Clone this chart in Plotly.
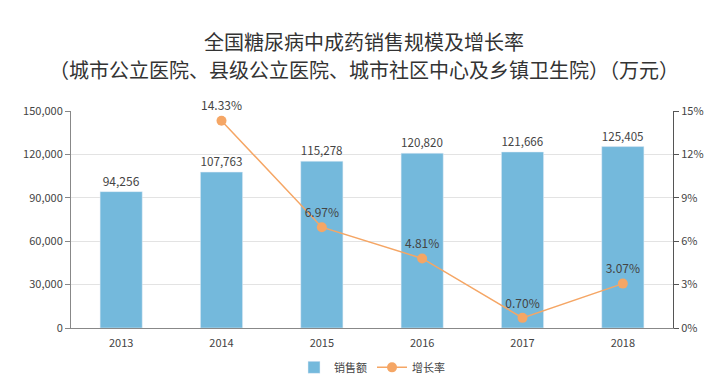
import plotly.graph_objects as go

years = ["2013", "2014", "2015", "2016", "2017", "2018"]
sales = [94256, 107763, 115278, 120820, 121666, 125405]
growth = [None, 14.33, 6.97, 4.81, 0.70, 3.07]
growth_labels = ["", "14.33%", "6.97%", "4.81%", "0.70%", "3.07%"]
y1_ticks = [0, 30000, 60000, 90000, 120000, 150000]
y2_ticks = [0, 3, 6, 9, 12, 15]
title_lines = ["全国糖尿病中成药销售规模及增长率",
               "（城市公立医院、县级公立医院、城市社区中心及乡镇卫生院）（万元）"]

font_family = "Noto Sans CJK SC, Noto Sans, sans-serif"

fig = go.Figure()
fig.add_trace(go.Bar(
    x=years, y=sales, name="销售额",
    marker=dict(color="#74b9dc"),
    width=0.42,
    text=[f"{v:,}" for v in sales], textposition="outside",
    textfont=dict(size=12, color="#444"),
    cliponaxis=False,
))
fig.add_trace(go.Scatter(
    x=years, y=growth, name="增长率", yaxis="y2",
    mode="lines+markers+text",
    line=dict(color="#f5a665", width=1.5),
    marker=dict(color="#f5a665", size=10),
    text=growth_labels, textposition="top center",
    textfont=dict(size=12, color="#444"),
    cliponaxis=False,
))

plot_left, plot_right = 63, 665
plot_top, plot_bottom = 103, 329
ph = plot_bottom - plot_top
pw = plot_right - plot_left
annotations = []
for txt, yc in zip(title_lines, [31, 60]):
    annotations.append(dict(
        text=txt, xref="paper", yref="paper",
        x=(356 - plot_left) / pw, xanchor="center",
        y=1 + (plot_top - yc) / ph, yanchor="middle",
        showarrow=False, font=dict(size=20, color="#333", family=font_family),
    ))

fig.update_layout(
    width=712, height=386,
    margin=dict(l=plot_left, r=712 - plot_right, t=plot_top, b=386 - plot_bottom),
    paper_bgcolor="white", plot_bgcolor="white",
    font=dict(family=font_family, color="#444"),
    annotations=annotations,
    xaxis=dict(
        type="category", showline=True, linecolor="#888", linewidth=1,
        ticks="outside", ticklen=5, tickcolor="rgba(0,0,0,0)",
        tickfont=dict(size=11, color="#444"), automargin=False,
    ),
    yaxis=dict(
        range=[0, 150000], tickvals=y1_ticks, tickformat=",",
        showline=True, linecolor="#888", linewidth=1,
        ticks="outside", ticklen=5, tickcolor="#888",
        gridcolor="#e3e3e3", zeroline=False,
        tickfont=dict(size=11, color="#444"),
    ),
    yaxis2=dict(
        range=[0, 15], tickvals=y2_ticks, ticktext=[f"{v}%" for v in y2_ticks],
        overlaying="y", side="right",
        showline=True, linecolor="#555", linewidth=1,
        ticks="outside", ticklen=5, tickcolor="#555",
        showgrid=False, zeroline=False,
        tickfont=dict(size=11, color="#444"),
    ),
    legend=dict(
        orientation="h", x=0.5, xanchor="center",
        y=(plot_bottom - 370) / ph, yanchor="middle",
        font=dict(size=11, color="#444"),
    ),
    bargap=0.58,
)

fig.write_html("out.html")
